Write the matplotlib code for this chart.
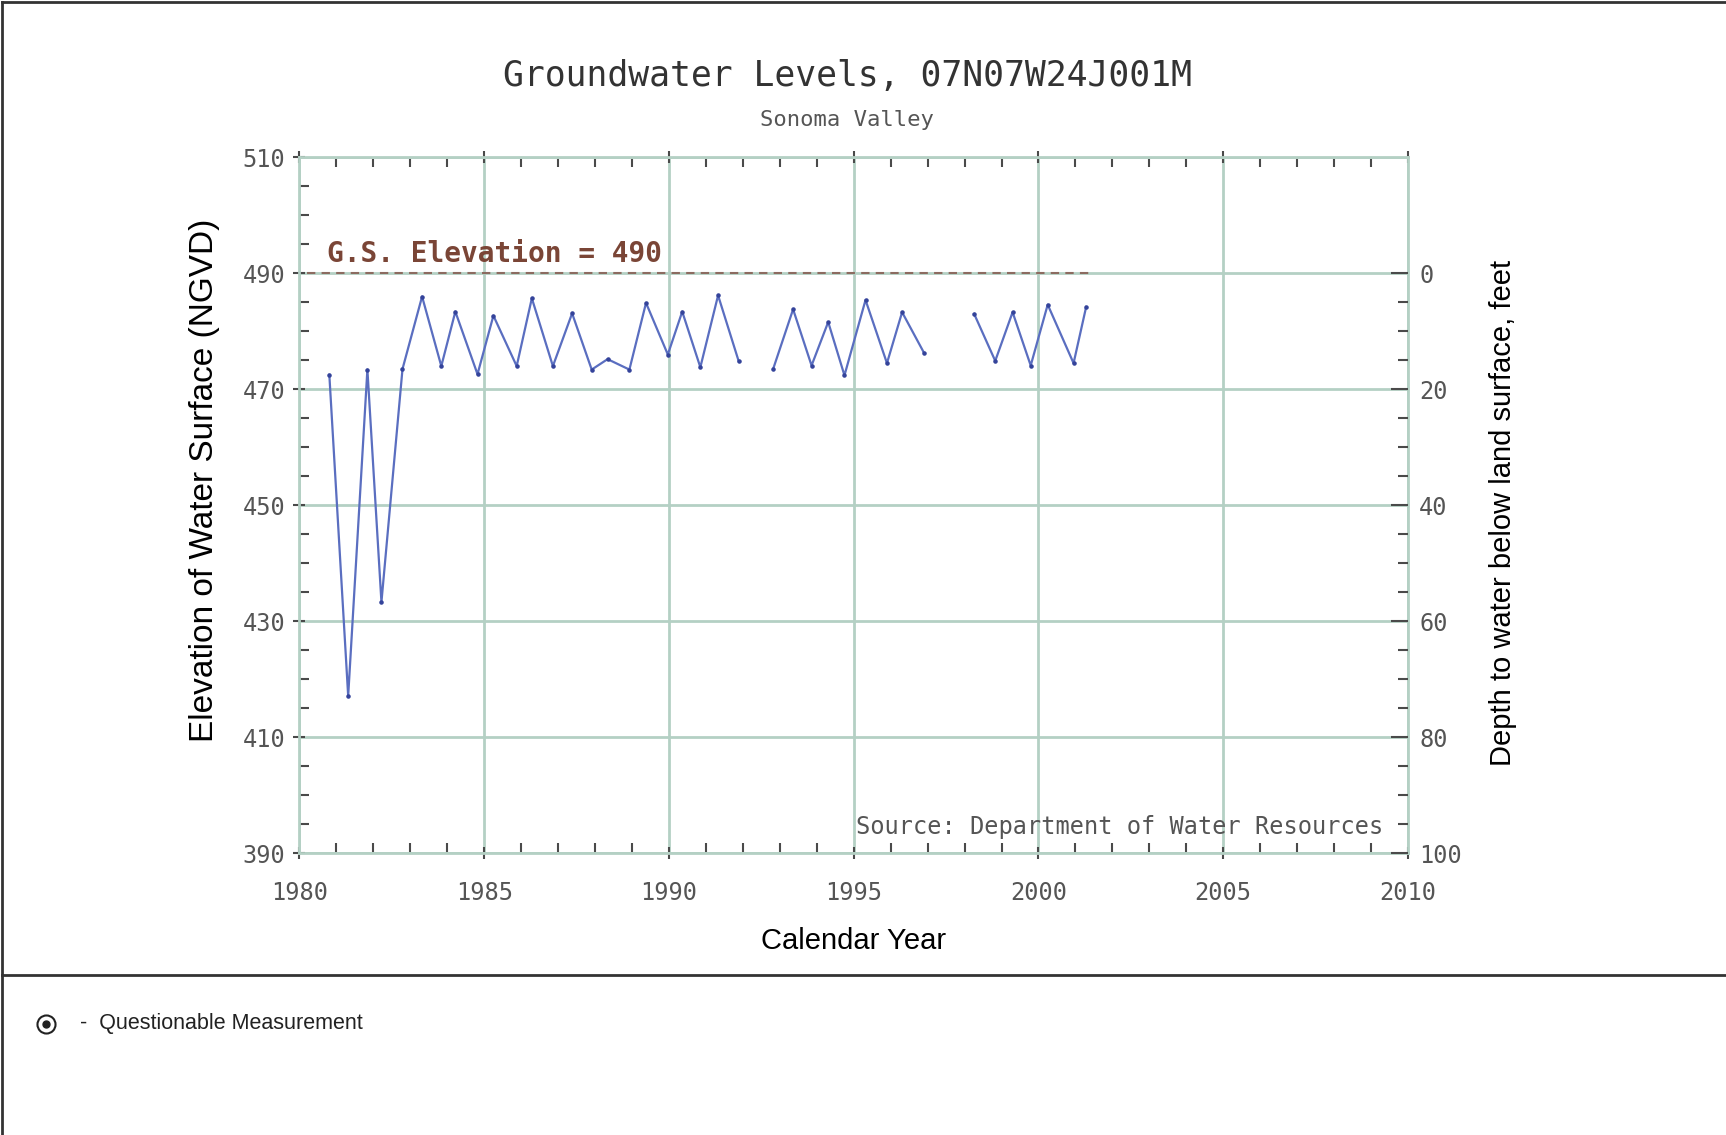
import numpy as np
import matplotlib
matplotlib.use('Agg')
import matplotlib.pyplot as plt
from matplotlib.ticker import MultipleLocator, FixedLocator
from matplotlib.lines import Line2D

# measurement dates (decimal year) and water surface elevation (ft NGVD)
# NaN marks a break in the record
years = [1980.81, 1981.32, 1981.84, 1982.22, 1982.79, 1983.32, 1983.84, 1984.22,
         1984.82, 1985.25, 1985.88, 1986.29, 1986.86, 1987.38, 1987.91, 1988.34,
         1988.93, 1989.38, 1989.97, 1990.36, 1990.85, 1991.33, 1991.89, np.nan,
         1992.82, 1993.36, 1993.86, 1994.31, 1994.75, 1995.32, 1995.90, 1996.31,
         1996.91, np.nan,
         1998.26, 1998.83, 1999.30, 1999.79, 2000.25, 2000.95, 2001.29]
elev = [472.5, 417.1, 473.4, 433.3, 473.5, 486.0, 474.0, 483.4,
        472.6, 482.7, 474.0, 485.7, 474.0, 483.1, 473.4, 475.2,
        473.4, 484.9, 476.0, 483.4, 473.8, 486.2, 474.8, np.nan,
        473.5, 483.8, 474.1, 481.6, 472.4, 485.4, 474.5, 483.3,
        476.2, np.nan,
        483.0, 474.9, 483.3, 474.1, 484.6, 474.5, 484.2]

gs_elev = 490
gs_span = [1980.2, 2001.4]
x_ticks = [1980, 1985, 1990, 1995, 2000, 2005, 2010]
y_ticks = [390, 410, 430, 450, 470, 490, 510]
depth_ticks = [0, 20, 40, 60, 80, 100]

W, H = 1726, 1135
fig = plt.figure(figsize=(W / 100, H / 100), dpi=100)
fig.patch.set_facecolor('white')

grid_c = '#b4d0c4'
tick_c = '#4a4a4a'
lab_c = '#555555'
mono = 'DejaVu Sans Mono'
sans = 'Liberation Sans'

ax = fig.add_axes([299.4 / W, 1 - 853.1 / H, (1408 - 299.4) / W, (853.1 - 157.4) / H])
ax.set_xlim(1980, 2010)
ax.set_ylim(390, 510)
for s in ax.spines.values():
    s.set_color(grid_c)
    s.set_linewidth(2)

ax.xaxis.set_major_locator(FixedLocator(x_ticks))
ax.xaxis.set_minor_locator(MultipleLocator(1))
ax.yaxis.set_major_locator(FixedLocator(y_ticks))
ax.yaxis.set_minor_locator(MultipleLocator(5))
ax.tick_params(axis='both', which='major', direction='inout', length=8, width=1.5,
               color=tick_c, labelcolor=lab_c, labelsize=17, top=True)
ax.tick_params(axis='both', which='minor', direction='in', length=7, width=1.5,
               color=tick_c, top=True)
ax.tick_params(axis='x', which='major', pad=16)
ax.tick_params(axis='y', which='major', pad=6)
for lbl in ax.get_xticklabels() + ax.get_yticklabels():
    lbl.set_family(mono)

ax.grid(True, which='major', color=grid_c, linewidth=2)
ax.set_axisbelow(True)

# ground surface reference line
ax.plot(gs_span, [gs_elev, gs_elev], color='#8c6b60', linestyle=(0, (4, 3)), linewidth=1.5)
ax.text(1980.75, 491.0, 'G.S. Elevation = 490', color='#7a4536', fontsize=20,
        fontweight='bold', family=mono, ha='left', va='bottom')

ax.plot(years, elev, color='#5a6ec0', linewidth=1.6, marker='.', markersize=4.5,
        markerfacecolor='#34439a', markeredgecolor='#34439a')

ax.text(0.978, 0.038, 'Source: Department of Water Resources', transform=ax.transAxes,
        ha='right', va='center', fontsize=17, family=mono, color='#555555')

ax.set_xlabel('Calendar Year', fontsize=21, family=sans, color='black', labelpad=16)
ax.set_ylabel('Elevation of Water Surface (NGVD)', fontsize=24, family=sans, color='black')
ax.yaxis.set_label_coords(-0.072, 0.536)

# depth axis on the right
ax2 = ax.twinx()
ax2.set_ylim(490 - 390, 490 - 510)
ax2.yaxis.set_major_locator(FixedLocator(depth_ticks))
ax2.yaxis.set_minor_locator(FixedLocator(np.arange(0, 101, 5)))
for s in ax2.spines.values():
    s.set_visible(False)
ax2.tick_params(axis='y', which='major', direction='in', length=12, width=1.5,
                color=tick_c, labelcolor=lab_c, labelsize=17, pad=8)
ax2.tick_params(axis='y', which='minor', direction='in', length=7, width=1.5, color=tick_c)
for lbl in ax2.get_yticklabels():
    lbl.set_family(mono)
ax2.set_ylabel('Depth to water below land surface, feet', fontsize=21, family=sans,
               color='black')
ax2.yaxis.set_label_coords(1.073, 0.489)

fig.text(847 / W, 1 - 76 / H, 'Groundwater Levels, 07N07W24J001M', ha='center',
         va='center', fontsize=25, family=mono, color='#333333')
fig.text(847 / W, 1 - 120 / H, 'Sonoma Valley', ha='center', va='center',
         fontsize=16, family=mono, color='#555555')

# page frame lines
fig.add_artist(Line2D([2 / W, 2 / W], [0, 1 - 2 / H], transform=fig.transFigure,
                      color='#333333', linewidth=2))
fig.add_artist(Line2D([2 / W, 1], [1 - 2 / H, 1 - 2 / H], transform=fig.transFigure,
                      color='#333333', linewidth=2))
fig.add_artist(Line2D([2 / W, 1], [1 - 975 / H, 1 - 975 / H], transform=fig.transFigure,
                      color='#333333', linewidth=2))

# legend note
fig.add_artist(Line2D([46 / W], [1 - 1024 / H], transform=fig.transFigure, marker='o',
                      markersize=13, markerfacecolor='white', markeredgecolor='#222222',
                      markeredgewidth=1.5, linestyle='none'))
fig.add_artist(Line2D([46 / W], [1 - 1024 / H], transform=fig.transFigure, marker='o',
                      markersize=5, color='#222222', linestyle='none'))
fig.text(80 / W, 1 - 1024 / H, '-  Questionable Measurement', ha='left', va='center',
         fontsize=15.5, family=sans, color='#222222')

fig.savefig('out.png', dpi=100)
